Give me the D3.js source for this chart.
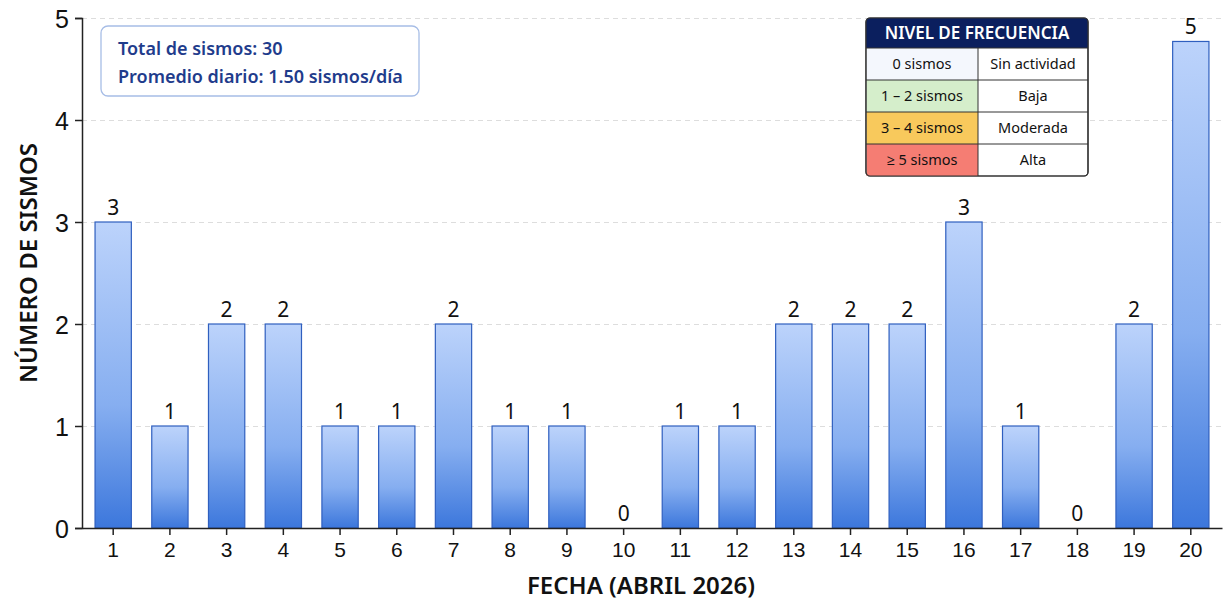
<!DOCTYPE html>
<html>
<head>
<meta charset="utf-8">
<script src="https://cdn.jsdelivr.net/npm/d3@7"></script>
<style>
  body { margin: 0; background: #fff; font-family: "Noto Sans", "Open Sans", sans-serif; }
  .grid line { stroke: #ddd; stroke-dasharray: 5,4; }
  .grid .domain { display: none; }
  .axis text { fill: #111; }
  .axis .domain, .axis line { stroke: #222; stroke-width: 1.5; }
</style>
</head>
<body>
<script>
var days = d3.range(1, 21);
var counts = [3, 1, 2, 2, 1, 1, 2, 1, 1, 0, 1, 1, 2, 2, 2, 3, 1, 0, 2, 5];
var yTicks = [0, 1, 2, 3, 4, 5];
var levelRanges = ["0 sismos", "1 – 2 sismos", "3 – 4 sismos", "≥ 5 sismos"];
var levelNames = ["Sin actividad", "Baja", "Moderada", "Alta"];
var levelColors = ["#f4f7fd", "#d5eecb", "#f8c95c", "#f57d73"];
var infoLines = ["Total de sismos: 30", "Promedio diario: 1.50 sismos/día"];

var margin = {top: 18, right: 2, bottom: 75, left: 82},
    width = 1224 - margin.left - margin.right,
    height = 603 - margin.top - margin.bottom;

var x = d3.scaleBand()
    .domain(days)
    .range([0, width])
    .paddingInner(0.36)
    .paddingOuter(0.23);

var y = d3.scaleLinear()
    .domain([0, 5])
    .range([height, 0]);

// the tallest bar is cut a bit below the top of the plot, as in the source
var barCap = 4.77;

var svg = d3.select("body").append("svg")
    .attr("width", 1224)
    .attr("height", 603)
  .append("g")
    .attr("transform", "translate(" + margin.left + "," + margin.top + ")");

var defs = svg.append("defs");
var grad = defs.append("linearGradient")
    .attr("id", "barGrad")
    .attr("x1", 0).attr("y1", 0).attr("x2", 0).attr("y2", 1);
grad.append("stop").attr("offset", "0%").attr("stop-color", "#bcd3fb");
grad.append("stop").attr("offset", "60%").attr("stop-color", "#86aef0");
grad.append("stop").attr("offset", "100%").attr("stop-color", "#3c77dc");

svg.append("g")
    .attr("class", "grid")
    .call(d3.axisLeft(y).tickValues(yTicks).tickSize(-width).tickFormat(""));

svg.selectAll(".bar")
    .data(counts)
  .enter().append("rect")
    .attr("class", "bar")
    .attr("x", function(d, i) { return x(days[i]); })
    .attr("width", x.bandwidth())
    .attr("y", function(d) { return y(Math.min(d, barCap)); })
    .attr("height", function(d) { return height - y(Math.min(d, barCap)); })
    .style("fill", "url(#barGrad)")
    .style("stroke", "#2f5fbf")
    .style("stroke-width", 1.2)
    .style("display", function(d) { return d > 0 ? null : "none"; });

svg.selectAll(".val")
    .data(counts)
  .enter().append("text")
    .attr("class", "val")
    .attr("x", function(d, i) { return x(days[i]) + x.bandwidth() / 2; })
    .attr("y", function(d) { return y(Math.min(d, barCap)) - 7; })
    .style("text-anchor", "middle")
    .style("font-size", "21px")
    .style("fill", "#111")
    .text(function(d) { return d; });

svg.append("g")
    .attr("class", "axis y")
    .call(d3.axisLeft(y).tickValues(yTicks).tickFormat(d3.format("d")).tickSize(7).tickPadding(6))
    .selectAll("text").style("font-size", "25px").attr("dy", "0.36em");

svg.append("g")
    .attr("class", "axis x")
    .attr("transform", "translate(0," + height + ")")
    .call(d3.axisBottom(x).tickSize(7).tickSizeOuter(0).tickPadding(7))
    .selectAll("text").style("font-size", "21px");

svg.append("text")
    .attr("x", width / 2 - 11)
    .attr("y", height + 66)
    .style("text-anchor", "middle")
    .style("font-size", "24px")
    .style("font-weight", "600")
    .style("fill", "#111")
    .text("FECHA (ABRIL 2026)");

svg.append("text")
    .attr("transform", "rotate(-90)")
    .attr("x", -(height / 2) + 10)
    .attr("y", -45)
    .style("text-anchor", "middle")
    .style("font-size", "24px")
    .style("font-weight", "600")
    .style("fill", "#111")
    .text("NÚMERO DE SISMOS");

// info box
var info = svg.append("g").attr("transform", "translate(19,8)");
info.append("rect")
    .attr("width", 318).attr("height", 70)
    .attr("rx", 7)
    .style("fill", "#fff")
    .style("stroke", "#a7bde6")
    .style("stroke-width", 1.3);
info.selectAll("text")
    .data(infoLines)
  .enter().append("text")
    .attr("x", 17)
    .attr("y", function(d, i) { return 29 + i * 28; })
    .style("font-size", "18px")
    .style("font-weight", "600")
    .style("fill", "#1f3c8c")
    .text(function(d) { return d; });

// frequency legend table
var lx = 866 - margin.left, ly = 0, lw = 222, col = 112, hh = 30, rh = 32;
var leg = svg.append("g").attr("transform", "translate(" + lx + "," + ly + ")");
leg.append("rect")
    .attr("width", lw).attr("height", hh + rh * levelRanges.length)
    .attr("rx", 4)
    .style("fill", "#fff")
    .style("stroke", "#333")
    .style("stroke-width", 1.2);
leg.append("path")
    .attr("d", "M0," + hh + "V4a4,4 0 0 1 4,-4H" + (lw - 4) + "a4,4 0 0 1 4,4V" + hh + "Z")
    .style("fill", "#0b1f5e");
leg.append("text")
    .attr("x", lw / 2).attr("y", hh / 2 + 6)
    .style("text-anchor", "middle")
    .style("font-size", "17px")
    .style("font-weight", "600")
    .style("fill", "#fff")
    .text("NIVEL DE FRECUENCIA");

var rows = leg.selectAll(".row")
    .data(levelRanges)
  .enter().append("g")
    .attr("class", "row")
    .attr("transform", function(d, i) { return "translate(0," + (hh + i * rh) + ")"; });
rows.append("rect")
    .attr("x", 0.6).attr("width", col - 0.6).attr("height", rh)
    .style("fill", function(d, i) { return levelColors[i]; });
rows.append("line")
    .attr("x1", 0).attr("x2", lw)
    .style("stroke", "#333").style("stroke-width", 1);
rows.append("line")
    .attr("x1", col).attr("x2", col).attr("y2", rh)
    .style("stroke", "#333").style("stroke-width", 1);
rows.append("text")
    .attr("x", col / 2).attr("y", rh / 2 + 5)
    .style("text-anchor", "middle")
    .style("font-size", "14.5px")
    .style("fill", "#111")
    .text(function(d) { return d; });
rows.append("text")
    .attr("x", col + (lw - col) / 2).attr("y", rh / 2 + 5)
    .style("text-anchor", "middle")
    .style("font-size", "14.5px")
    .style("fill", "#111")
    .text(function(d, i) { return levelNames[i]; });
leg.append("rect")
    .attr("width", lw).attr("height", hh + rh * levelRanges.length)
    .attr("rx", 4)
    .style("fill", "none")
    .style("stroke", "#333")
    .style("stroke-width", 1.2);
</script>
</body>
</html>
